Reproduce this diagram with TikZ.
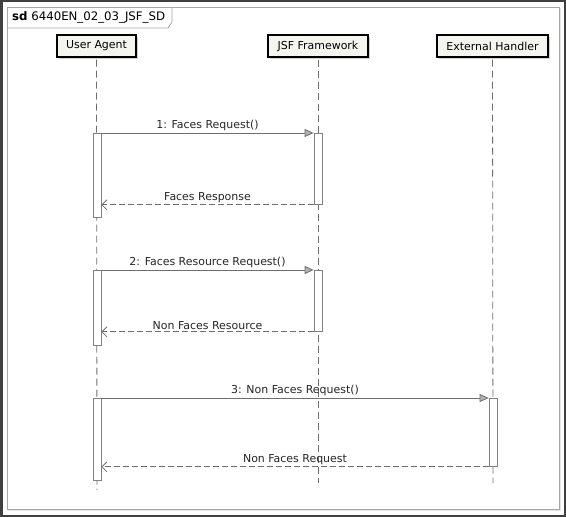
\documentclass[tikz,border=0pt]{standalone}
\usepackage{fontspec}
\setmainfont{DejaVu Sans}
\usetikzlibrary{shapes,arrows.meta,positioning,shadows}

\definecolor{headfill}{HTML}{F5F5EF}
\definecolor{linegray}{HTML}{6E6E6E}
\tikzset{
  head/.style={draw=black, line width=1.3bp, fill=headfill, minimum height=22bp,
    inner sep=0pt, font=\fontsize{11}{13}\selectfont,
    drop shadow={shadow xshift=2bp, shadow yshift=-2bp, fill=gray!35, opacity=1}},
  life/.style={draw=linegray, dashed, dash pattern=on 7bp off 4bp, line width=0.8bp},
  act/.style={draw=gray, fill=white, line width=0.8bp, minimum width=8bp, inner sep=0pt, anchor=north},
  msg/.style={draw=linegray, line width=0.8bp, -{Triangle[length=9bp,width=8bp,fill=gray!60]}},
  ret/.style={draw=linegray, line width=0.8bp, dashed, dash pattern=on 6bp off 3bp, -{Straight Barb[length=5bp,width=10bp]}},
  lbl/.style={font=\fontsize{11}{13}\selectfont, text=black!85, inner sep=1.5bp}
}

\begin{document}
\begin{tikzpicture}[x=1bp,y=-1bp]
\useasboundingbox (0,0) rectangle (566,517);
% outer and inner frame
\draw[line width=2.5bp, black!75] (1.25,1.25) rectangle (564.75,515.75);
\draw[gray!20, line width=1.2bp] (8.5,8.5) rectangle (560.5,510.5);
\draw[gray!70, line width=0.8bp, fill=white] (7,7) rectangle (559,509);
% frame tab
\draw[gray!70, line width=0.8bp] (7,28) -- (168,28) -- (172,22) -- (172,7);
\node[anchor=west, inner sep=0pt, font=\fontsize{11.8}{14}\selectfont] (title) at (12,17.5) {\textbf{sd} 6440EN\_02\_03\_JSF\_SD};

% lifeline heads
\node[head, minimum width=79bp] (ua) at (96.5,46) {User Agent};
\node[head, minimum width=100bp] (jf) at (318,46) {JSF Framework};
\node[head, minimum width=111bp] (eh) at (492.5,46) {External Handler};

% lifelines
\coordinate (uaend) at (97,490);
\coordinate (jfend) at (318,483);
\coordinate (ehend) at (493,483);
\draw[life] (ua.south) ++(0,2) -- (uaend);
\draw[life] (jf.south) ++(0,2) -- (jfend);
\draw[life] (eh.south) ++(0,2) -- (ehend);

% activations
\node[act, minimum height=84bp] (ua1) at (97,133) {};
\node[act, minimum height=71bp] (jf1) at (318,133) {};
\node[act, minimum height=75bp] (ua2) at (97,270) {};
\node[act, minimum height=61bp] (jf2) at (318,270) {};
\node[act, minimum height=82bp] (ua3) at (97,398) {};
\node[act, minimum height=68bp] (eh3) at (493,398) {};

% messages
\draw[msg] (ua1.north east) -- node[lbl, above] {1: Faces Request()} (jf1.north west);
\draw[ret] (jf1.south west) -- node[lbl, above] {Faces Response} (ua1.east |- jf1.south);
\draw[msg] (ua2.north east) -- node[lbl, above] {2: Faces Resource Request()} (jf2.north west);
\draw[ret] (jf2.south west) -- node[lbl, above] {Non Faces Resource} (ua2.east |- jf2.south);
\draw[msg] (ua3.north east) -- node[lbl, above] {3: Non Faces Request()} (eh3.north west);
\draw[ret] (eh3.south west) -- node[lbl, above] {Non Faces Request} (ua3.east |- eh3.south);
\end{tikzpicture}
\end{document}
